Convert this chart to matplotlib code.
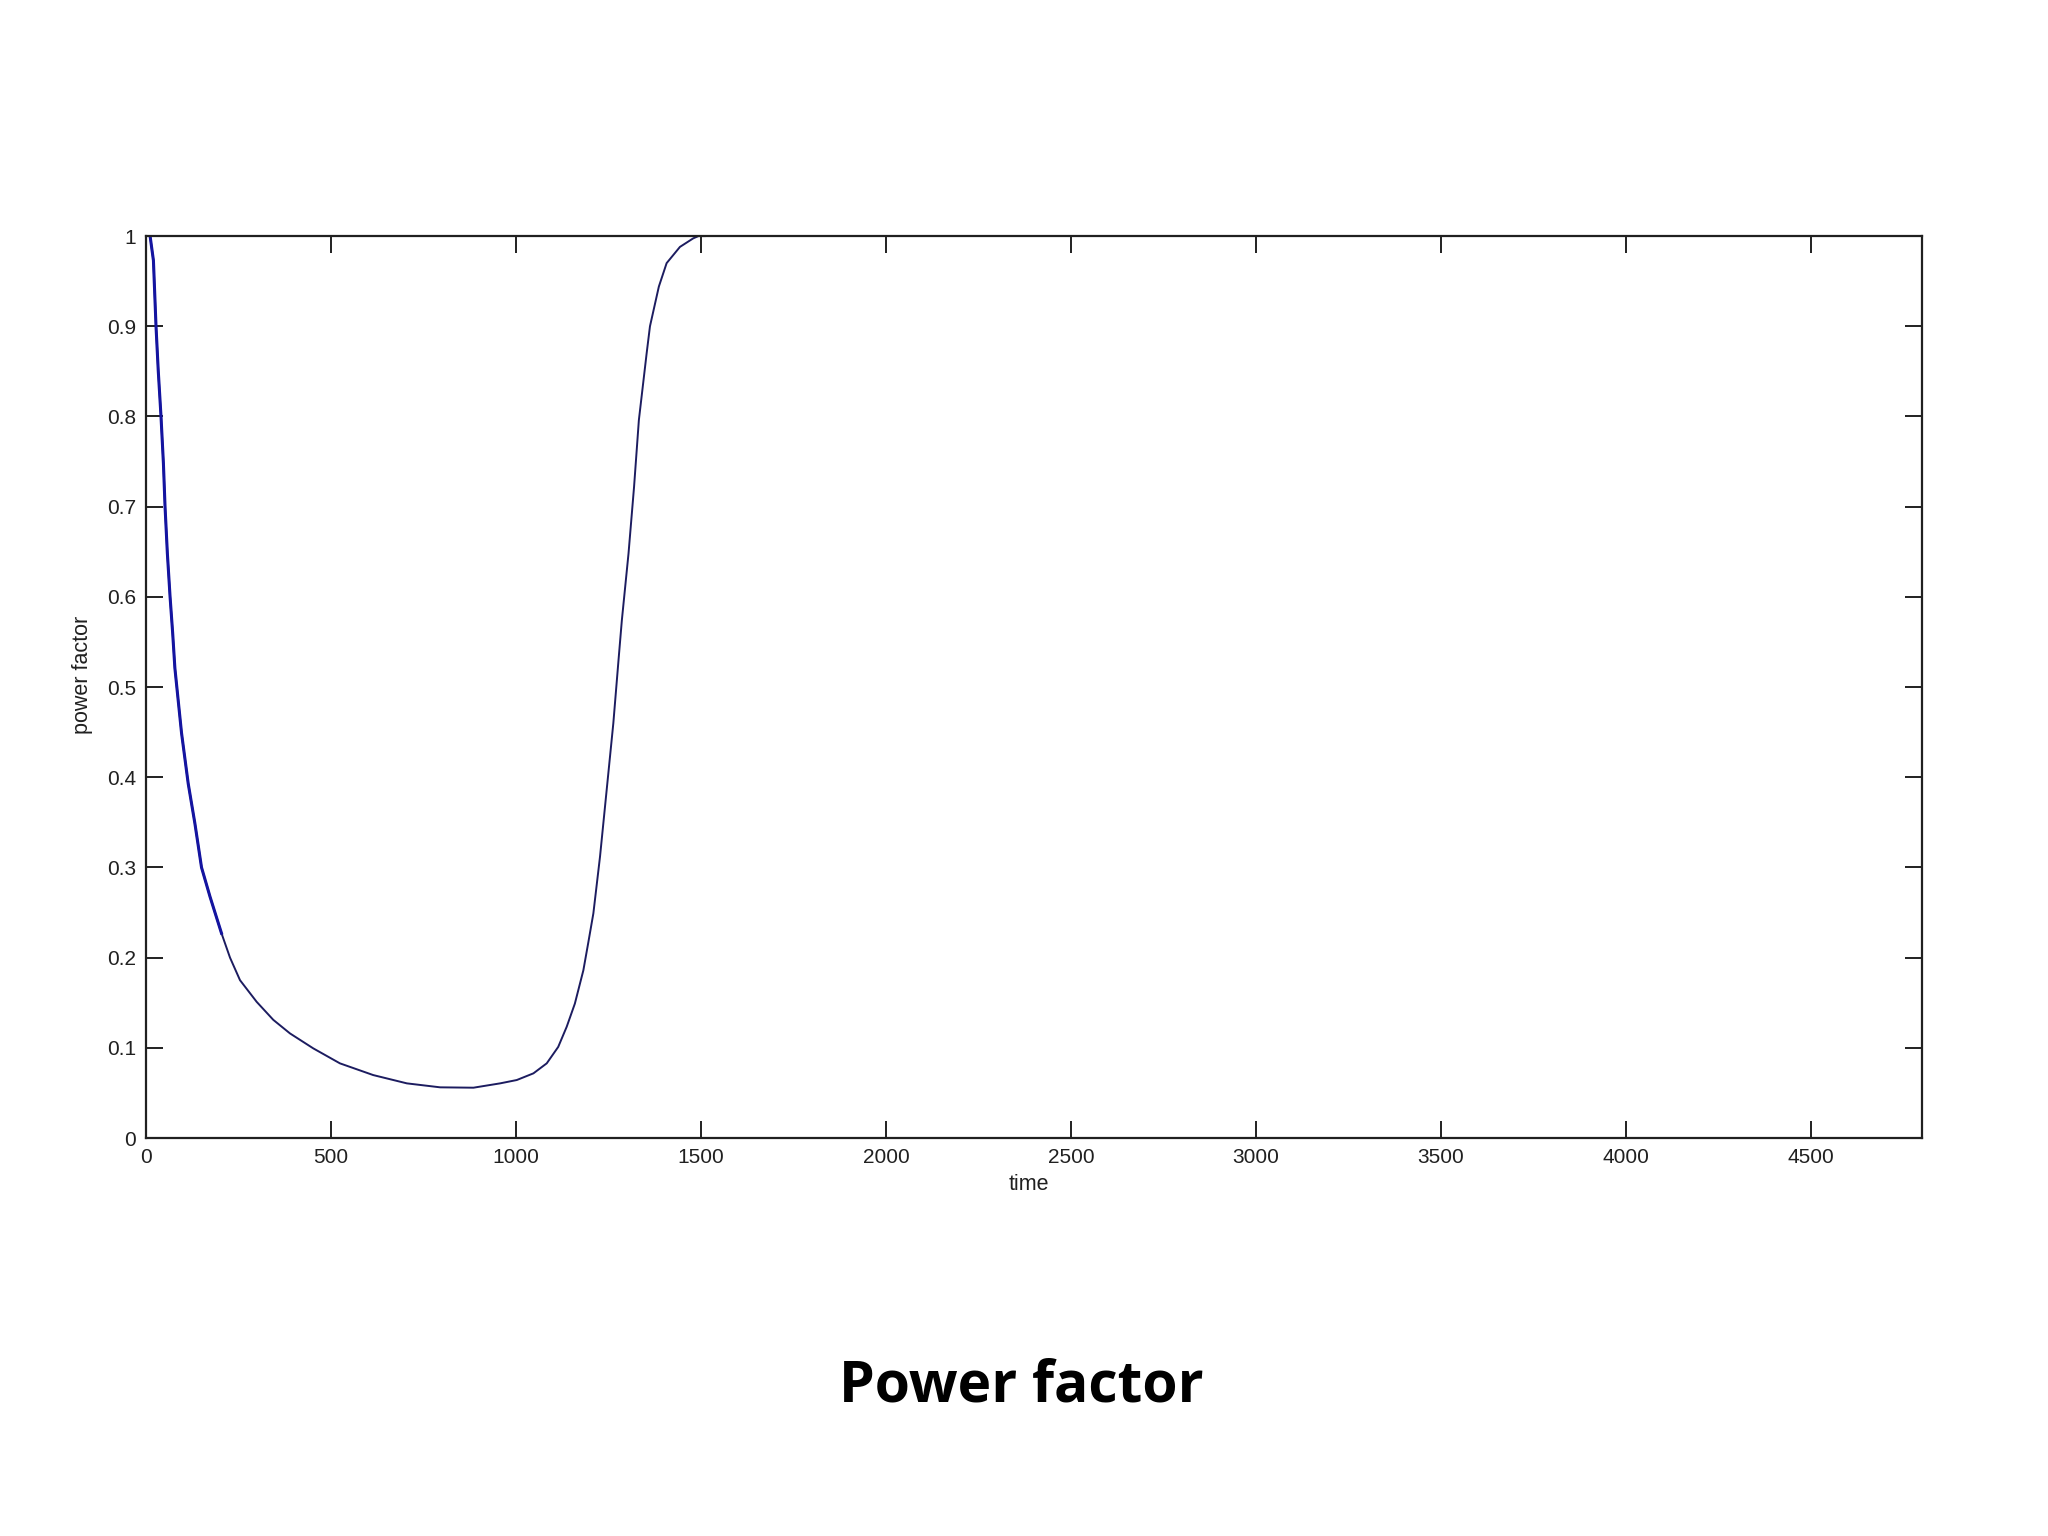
import matplotlib
matplotlib.use("Agg")
import matplotlib.pyplot as plt
import numpy as np

# Data
time = [11, 20, 27, 33, 40.5, 47, 51.4, 57.7, 65, 72, 78, 96, 114, 132, 150,
        173, 204, 227, 254, 299, 344, 389, 452, 524, 614, 705, 795, 885, 957,
        1002, 1047, 1083, 1114, 1137, 1159, 1182, 1195, 1209, 1227, 1245,
        1263, 1277, 1286, 1304, 1319, 1332, 1353, 1362, 1386, 1407, 1443,
        1479, 1493, 1510]
power_factor = [1.0, 0.973, 0.9, 0.851, 0.8, 0.748, 0.7, 0.648, 0.6, 0.56, 0.521,
                0.449, 0.393, 0.349, 0.3, 0.2675, 0.227, 0.2, 0.175, 0.151,
                0.131, 0.116, 0.0994, 0.0828, 0.0698, 0.0606, 0.0562, 0.0558,
                0.0606, 0.0643, 0.0717, 0.0828, 0.101, 0.1234, 0.149, 0.186,
                0.216, 0.249, 0.312, 0.386, 0.46, 0.53, 0.574, 0.648, 0.722,
                0.796, 0.870, 0.90, 0.944, 0.970, 0.988, 0.9975, 1.0, 1.0]
early_end = 210  # early part drawn heavier (blue) in the original

x_ticks = [0, 500, 1000, 1500, 2000, 2500, 3000, 3500, 4000, 4500]
y_ticks = [0, 0.1, 0.2, 0.3, 0.4, 0.5, 0.6, 0.7, 0.8, 0.9, 1]
y_tick_labels = ["0", "0.1", "0.2", "0.3", "0.4", "0.5", "0.6", "0.7", "0.8", "0.9", "1"]

fig = plt.figure(figsize=(20.48, 15.36), dpi=100)
ax = fig.add_axes([0.0713, 0.2591, 0.8672, 0.5872])

t = np.array(time)
p = np.array(power_factor)
ax.plot(t, p, color="#1c1c60", lw=1.4, solid_joinstyle="round")
mask = t <= early_end
ax.plot(t[mask], p[mask], color="#1414a0", lw=2.2, solid_joinstyle="round")

ax.set_xlim(0, 4800)
ax.set_ylim(0, 1)
ax.set_xticks(x_ticks)
ax.set_xticklabels([str(v) for v in x_ticks])
ax.set_yticks(y_ticks)
ax.set_yticklabels(y_tick_labels)

for s in ax.spines.values():
    s.set_linewidth(1.6)
    s.set_color("#202020")

ax.tick_params(direction="in", length=12, width=1.4, colors="#202020",
               top=True, right=True, labelsize=15, pad=7)
for lab in ax.get_xticklabels() + ax.get_yticklabels():
    lab.set_fontfamily("Liberation Sans")

ax.set_xlabel("time", fontsize=15.5, family="Liberation Sans", color="#202020")
ax.set_ylabel("power factor", fontsize=15.5, family="Liberation Sans", color="#202020")
ax.xaxis.set_label_coords(0.497, -0.040)
ax.yaxis.set_label_coords(-0.030, 0.513)

fig.text(0.4985, (1536 - 1387) / 1536, "Power factor", ha="center", va="center",
         fontsize=41, fontweight="bold", family="Open Sans", color="black")

fig.savefig("out.png", dpi=100, facecolor="white")
